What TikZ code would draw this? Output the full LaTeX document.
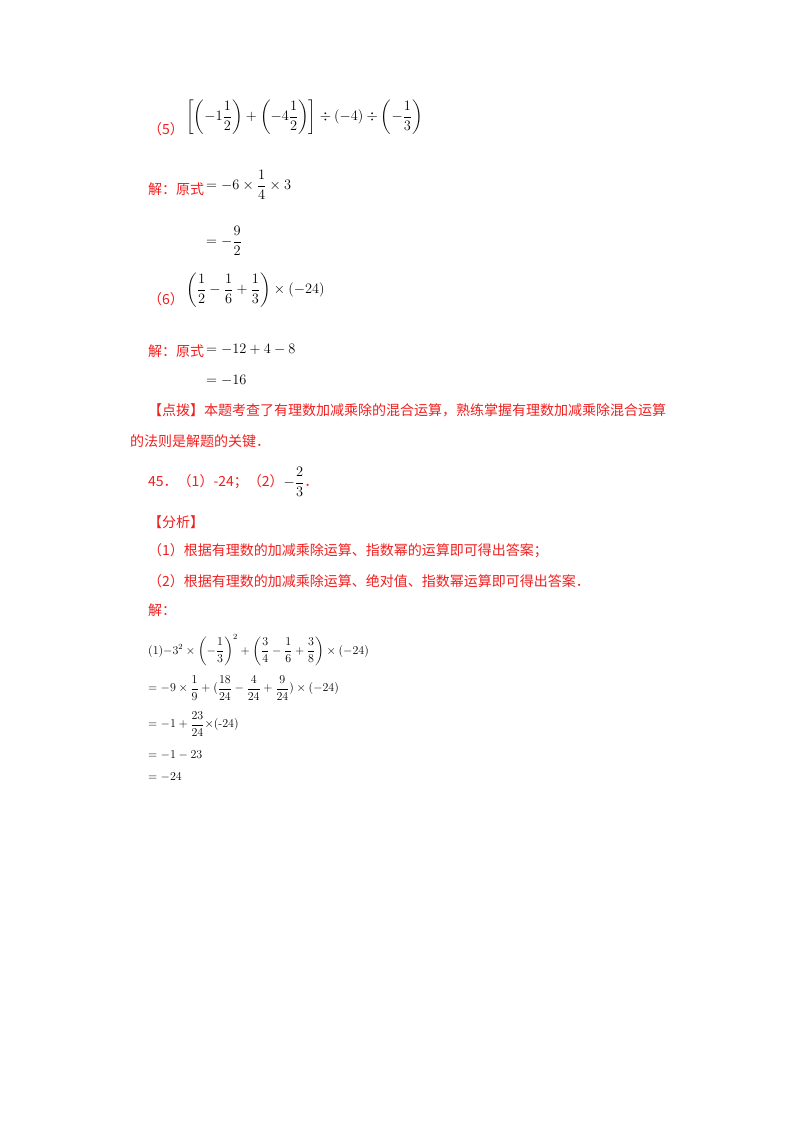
\documentclass[tikz,border=0pt]{standalone}
\usepackage{amsmath}
\usepackage{fontspec}
\newfontfamily\cjk{Noto Sans CJK SC}
\definecolor{rd}{RGB}{240,30,30}
\begin{document}
\begin{tikzpicture}[x=1pt,y=-1pt,
 t/.style={anchor=west,inner sep=0pt,font=\fontsize{14}{16}\selectfont},
 r/.style={t,text=rd,font=\fontsize{14}{16}\selectfont\cjk}]
\useasboundingbox (0,0) rectangle (800,1132);
\node[r] (a1) at (148,129) {（5）};
\node[t] (m1) at (186,117) {$\left[\left(-1\dfrac12\right)+\left(-4\dfrac12\right)\right]\div(-4)\div\left(-\dfrac13\right)$};
\node[r] (a2) at (148,189) {解：原式};
\node[t] (m2) at (206,185) {$=-6\times\dfrac14\times3$};
\node[t] (m3) at (206,241) {$=-\dfrac92$};
\node[r] (a3) at (148,299) {（6）};
\node[t] (m4) at (186,290) {$\left(\dfrac12-\dfrac16+\dfrac13\right)\times(-24)$};
\node[r] (a4) at (148,351) {解：原式};
\node[t] (m5) at (206,349) {$=-12+4-8$};
\node[t] (m6) at (206,380) {$=-16$};
\node[r] (p1) at (148,410) {【点拨】本题考查了有理数加减乘除的混合运算，熟练掌握有理数加减乘除混合运算};
\node[r] (p2) at (130,441) {的法则是解题的关键．};
\node[r] (q) at (148,482) {45．（1）-24；（2）\textcolor{black}{$-\dfrac23$}．};
\node[r] (f) at (148,522) {【分析】};
\node[r] (f1) at (148,551) {（1）根据有理数的加减乘除运算、指数幂的运算即可得出答案；};
\node[r] (f2) at (148,581) {（2）根据有理数的加减乘除运算、绝对值、指数幂运算即可得出答案．};
\node[r] (j) at (148,610) {解：};
\node[t] (s1) at (148,650) {\fontsize{12}{14}\selectfont (1)$-3^2\times\left(-\dfrac13\right)^2+\left(\dfrac34-\dfrac16+\dfrac38\right)\times(-24)$};
\node[t] (s2) at (148,688) {\fontsize{12}{14}\selectfont $=-9\times\dfrac19+(\dfrac{18}{24}-\dfrac4{24}+\dfrac9{24})\times(-24)$};
\node[t] (s3) at (148,724) {\fontsize{12}{14}\selectfont $=-1+\dfrac{23}{24}\times$(-24)};
\node[t] (s4) at (148,755) {\fontsize{12}{14}\selectfont $=-1-23$};
\node[t] (s5) at (148,777) {\fontsize{12}{14}\selectfont $=-24$};
\end{tikzpicture}
\end{document}
